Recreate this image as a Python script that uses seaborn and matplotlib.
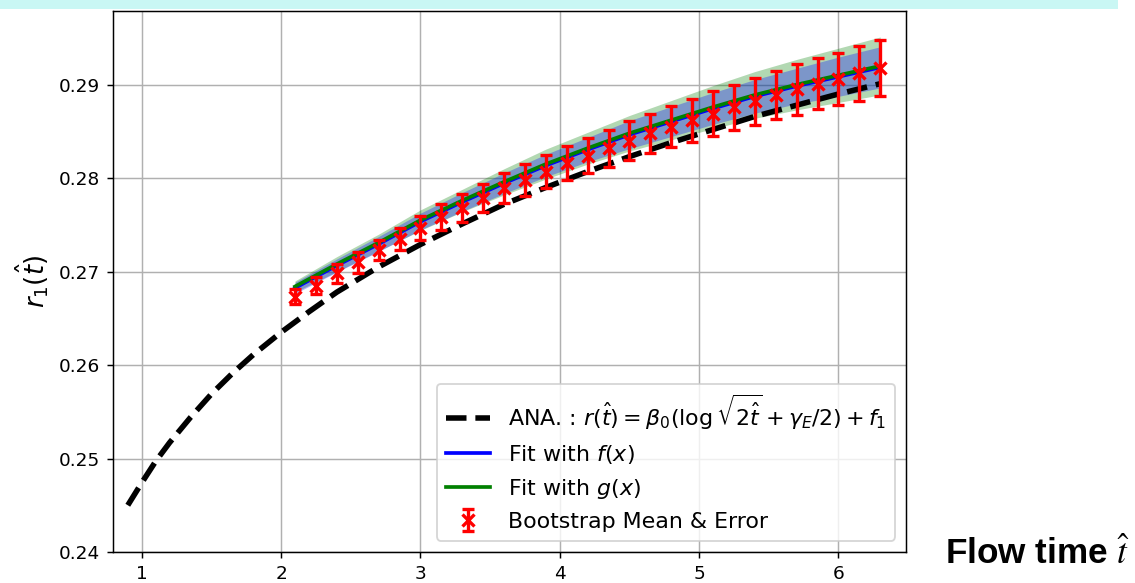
import matplotlib
matplotlib.use("Agg")
import matplotlib.pyplot as plt
from matplotlib.patches import Rectangle
import numpy as np
import pandas as pd
import seaborn as sns

# Analytic one-loop curve r(t) sampled along flow time
t_ana = [0.9, 1.0, 1.1, 1.2, 1.35, 1.5, 1.65, 1.8, 2.0, 2.2, 2.4, 2.7, 3.0,
         3.3, 3.6, 3.9, 4.2, 4.5, 4.8, 5.1, 5.4, 5.7, 6.0, 6.3]
r_ana = [0.2450, 0.2474, 0.2497, 0.2517, 0.2544, 0.2569, 0.2591, 0.2611,
         0.2635, 0.2657, 0.2678, 0.2705, 0.2729, 0.2751, 0.2772, 0.2790,
         0.2807, 0.2823, 0.2838, 0.2852, 0.2866, 0.2878, 0.2890, 0.2901]

# Bootstrap mean and error of r_1 at each flow time
t_boot = [2.10, 2.25, 2.40, 2.55, 2.70, 2.85, 3.00, 3.15, 3.30, 3.45, 3.60,
          3.75, 3.90, 4.05, 4.20, 4.35, 4.50, 4.65, 4.80, 4.95, 5.10, 5.25,
          5.40, 5.55, 5.70, 5.85, 6.00, 6.15, 6.30]
r_boot = [0.2673, 0.2685, 0.2698, 0.2710, 0.2723, 0.2735, 0.2747, 0.2758,
          0.2768, 0.2779, 0.2789, 0.2798, 0.2807, 0.2816, 0.2824, 0.2832,
          0.2840, 0.2848, 0.2855, 0.2862, 0.2869, 0.2876, 0.2882, 0.2889,
          0.2895, 0.2901, 0.2906, 0.2912, 0.2918]
err_boot = [0.0008, 0.0009, 0.0010, 0.0011, 0.0011, 0.0012, 0.0013, 0.0014,
            0.0015, 0.0015, 0.0016, 0.0017, 0.0018, 0.0018, 0.0019, 0.0020,
            0.0021, 0.0021, 0.0022, 0.0023, 0.0024, 0.0024, 0.0025, 0.0026,
            0.0027, 0.0027, 0.0028, 0.0029, 0.0030]

# Fitted curves f(x), g(x) with their uncertainty half-widths
t_fit = [2.1, 2.4, 2.7, 3.0, 3.3, 3.6, 3.9, 4.2, 4.5, 4.8, 5.1, 5.4, 5.7,
         6.0, 6.3]
f_fit = [0.26825, 0.27065, 0.27295, 0.27535, 0.27745, 0.27945, 0.28135,
         0.28305, 0.28465, 0.28605, 0.28745, 0.28875, 0.28985, 0.29085,
         0.29185]
f_half = [0.0006, 0.0007, 0.0008, 0.0009, 0.0010, 0.0011, 0.0012, 0.0013,
          0.0015, 0.0016, 0.0017, 0.0018, 0.0019, 0.0021, 0.0022]
g_fit = [0.2684, 0.2708, 0.2731, 0.2755, 0.2776, 0.2796, 0.2815, 0.2832,
         0.2848, 0.2862, 0.2876, 0.2889, 0.2900, 0.2910, 0.2920]
g_half = [0.0006, 0.0008, 0.0009, 0.0011, 0.0012, 0.0014, 0.0016, 0.0017,
          0.0019, 0.0021, 0.0023, 0.0025, 0.0027, 0.0029, 0.0031]

x_ticks = [1, 2, 3, 4, 5, 6]
y_ticks = [0.24, 0.25, 0.26, 0.27, 0.28, 0.29]

ana_label = (r"ANA. : $r(\hat{t}) = \beta_0(\log\sqrt{2\hat{t}}"
             r" + \gamma_E/2) + f_1$")

DPI = 133
fig = plt.figure(figsize=(1135.2 / DPI, 583.2 / DPI), dpi=DPI)

# light banner strip along the top edge
fig.patches.append(Rectangle((0, 1 - 9 / 583), 1118 / 1135, 9 / 583,
                             transform=fig.transFigure, facecolor="#c9f7f4",
                             edgecolor="none", zorder=0))

ax = fig.add_axes([113 / 1135, 31 / 583, 793 / 1135, 541 / 583])

df_ana = pd.DataFrame({"t": t_ana, "r": r_ana})
sns.lineplot(data=df_ana, x="t", y="r", ax=ax, color="black",
             linestyle="--", linewidth=3, label=ana_label, zorder=3)

g_arr = np.array(g_fit)
f_arr = np.array(f_fit)
ax.fill_between(t_fit, g_arr - np.array(g_half), g_arr + np.array(g_half),
                color="green", alpha=0.3, linewidth=0, zorder=1)
ax.fill_between(t_fit, f_arr - np.array(f_half), f_arr + np.array(f_half),
                color="blue", alpha=0.3, linewidth=0, zorder=1)

df_fit = pd.DataFrame({"t": t_fit, "f": f_fit, "g": g_fit})
sns.lineplot(data=df_fit, x="t", y="f", ax=ax, color="blue", linewidth=2,
             label=r"Fit with $f(x)$")
sns.lineplot(data=df_fit, x="t", y="g", ax=ax, color="green", linewidth=2,
             label=r"Fit with $g(x)$")

ax.errorbar(t_boot, r_boot, yerr=err_boot, fmt="x", color="red",
            capsize=3, elinewidth=1.8, capthick=1.8, markersize=7,
            markeredgewidth=1.8, label="Bootstrap Mean & Error", zorder=4)

ax.set_xlim(0.794, 6.486)
ax.set_ylim(0.24, 0.2979)
ax.set_xticks(x_ticks)
ax.set_yticks(y_ticks)
ax.set_xticklabels([str(v) for v in x_ticks])
ax.set_yticklabels([f"{v:.2f}" for v in y_ticks])
ax.grid(True)
ax.set_axisbelow(True)
ax.set_xlabel("")
ax.set_ylabel(r"$r_1(\hat{t})$", fontsize=14)

ax.legend(loc="lower right", fontsize=12)

fig.text(945 / 1135, (583 - 564) / 583, r"Flow time $\hat{t}$",
         fontsize=19, fontweight="bold", family="Liberation Sans",
         math_fontfamily="stix", ha="left", va="baseline")

fig.savefig("out.png", dpi=DPI)
